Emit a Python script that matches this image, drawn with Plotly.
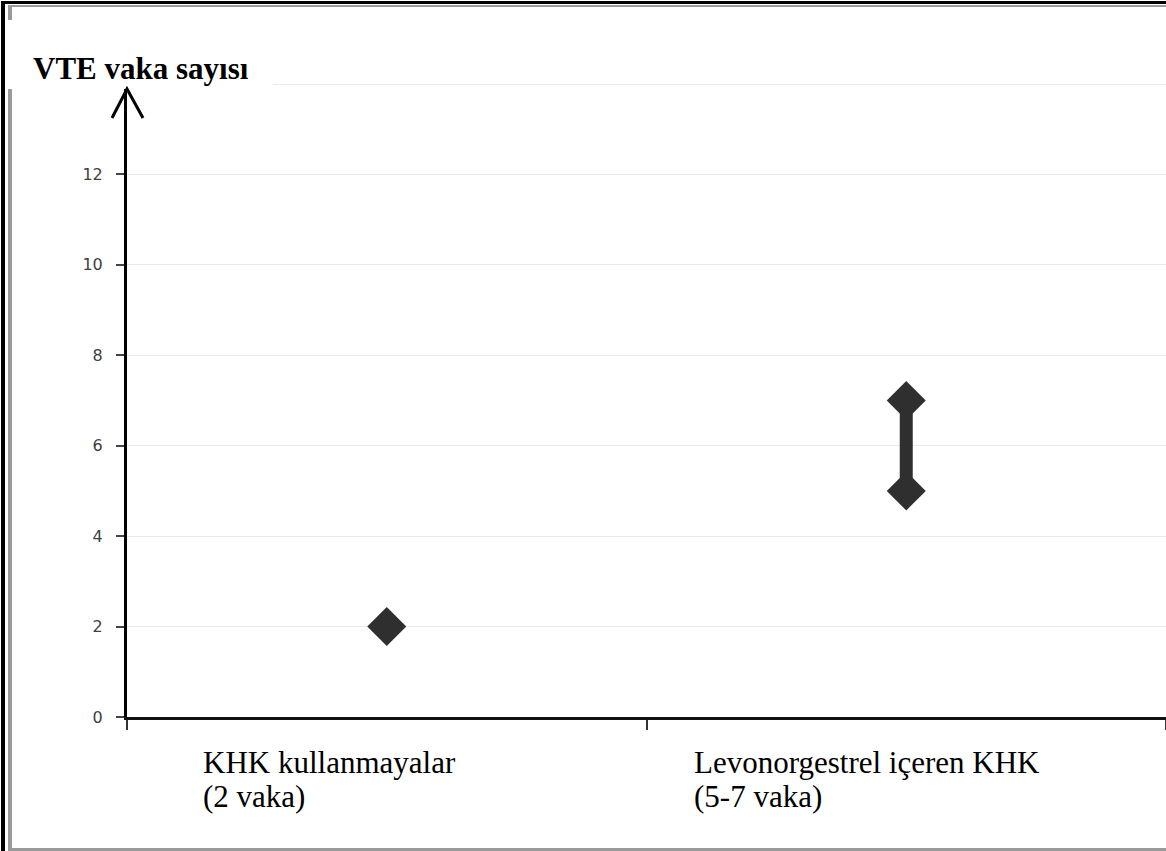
import plotly.graph_objects as go

# ---- data ----
categories = ["KHK kullanmayalar", "Levonorgestrel içeren KHK"]
label_line2 = ["(2 vaka)", "(5-7 vaka)"]
nonuser_value = [2]
lng_low = [5]
lng_high = [7]
y_ticks = [0, 2, 4, 6, 8, 10, 12, 14]
y_ticktext = ["0", "2", "4", "6", "8", "10", "12", ""]
y_title = "VTE vaka sayısı"

W, H = 1166, 851
PL, PR, PT, PB = 127, 1166, 81, 717
Y_TOP = (PB - PT) / ((717 - 84) / 14.0)


def px(x):
    return (x - PL) / (PR - PL)


def py(y):
    return (PB - y) / (PB - PT)


MARK = "#2f2f2f"

fig = go.Figure()
fig.add_trace(go.Scatter(
    x=[categories[0]], y=nonuser_value, mode="markers",
    marker=dict(symbol="diamond", size=30, color=MARK),
    showlegend=False, hoverinfo="skip"))
fig.add_trace(go.Scatter(
    x=[categories[1], categories[1]], y=[lng_low[0], lng_high[0]],
    mode="lines+markers",
    line=dict(color=MARK, width=13),
    marker=dict(symbol="diamond", size=30, color=MARK),
    showlegend=False, hoverinfo="skip"))

shapes = []


def rect(x0, y0, x1, y1, color, layer="above"):
    shapes.append(dict(type="rect", xref="paper", yref="paper",
                       x0=px(x0), x1=px(x1), y0=py(y1), y1=py(y0),
                       fillcolor=color, line=dict(width=0), layer=layer))


# frame
rect(1, 1, 5, 851, "#000000")
rect(1, 1, 1166, 4, "#000000")
rect(8, 5, 12, 851, "#9a9a9a")
rect(8, 5, 1166, 7, "#9a9a9a")
rect(8, 848, 1166, 851, "#9a9a9a")
# white box behind title
rect(6, 20, 273, 89, "#ffffff")
# arrow head on y axis
shapes.append(dict(type="path", xref="paper", yref="paper",
                   path="M %f,%f L %f,%f L %f,%f" % (px(112), py(118), px(127), py(89), px(143), py(118)),
                   line=dict(color="#000000", width=3), layer="above"))

annotations = [dict(text="<b>%s</b>" % y_title, xref="paper", yref="paper",
                    x=px(31), y=py(68), xanchor="left", yanchor="middle",
                    showarrow=False,
                    font=dict(family="Liberation Serif", size=31, color="#000000"))]
label_x = [201, 692]
for i in range(len(categories)):
    annotations.append(dict(text=categories[i], xref="paper", yref="paper",
                            x=px(label_x[i]), y=py(762), xanchor="left", yanchor="middle",
                            showarrow=False,
                            font=dict(family="Liberation Serif", size=31, color="#000000")))
    annotations.append(dict(text=label_line2[i], xref="paper", yref="paper",
                            x=px(label_x[i]), y=py(796), xanchor="left", yanchor="middle",
                            showarrow=False,
                            font=dict(family="Liberation Serif", size=31, color="#000000")))

fig.update_layout(
    width=W, height=H,
    margin=dict(l=PL, r=W - PR, t=PT, b=H - PB, pad=0),
    paper_bgcolor="#ffffff", plot_bgcolor="#ffffff",
    shapes=shapes, annotations=annotations,
    xaxis=dict(type="category", categoryorder="array", categoryarray=categories,
               range=[-0.5, 1.5], showgrid=False, zeroline=False,
               showline=True, linecolor="#111111", linewidth=2.5,
               ticks="outside", tickson="boundaries", ticklen=10, tickwidth=2,
               tickcolor="#333333", showticklabels=False),
    yaxis=dict(range=[0, Y_TOP], tickvals=y_ticks, ticktext=y_ticktext,
               showgrid=True, gridcolor="#ebebeb",
               gridwidth=1, zeroline=False, showline=True, linecolor="#000000",
               linewidth=3, ticks="outside", ticklen=8, tickwidth=1.5,
               tickcolor="#444444", ticklabelstandoff=10,
               tickfont=dict(family="DejaVu Sans", size=16, color="#404040")),
)

fig.write_html("out.html", config={"displayModeBar": False},
               post_script="document.body.style.margin='0px';document.body.style.overflow='hidden';")
